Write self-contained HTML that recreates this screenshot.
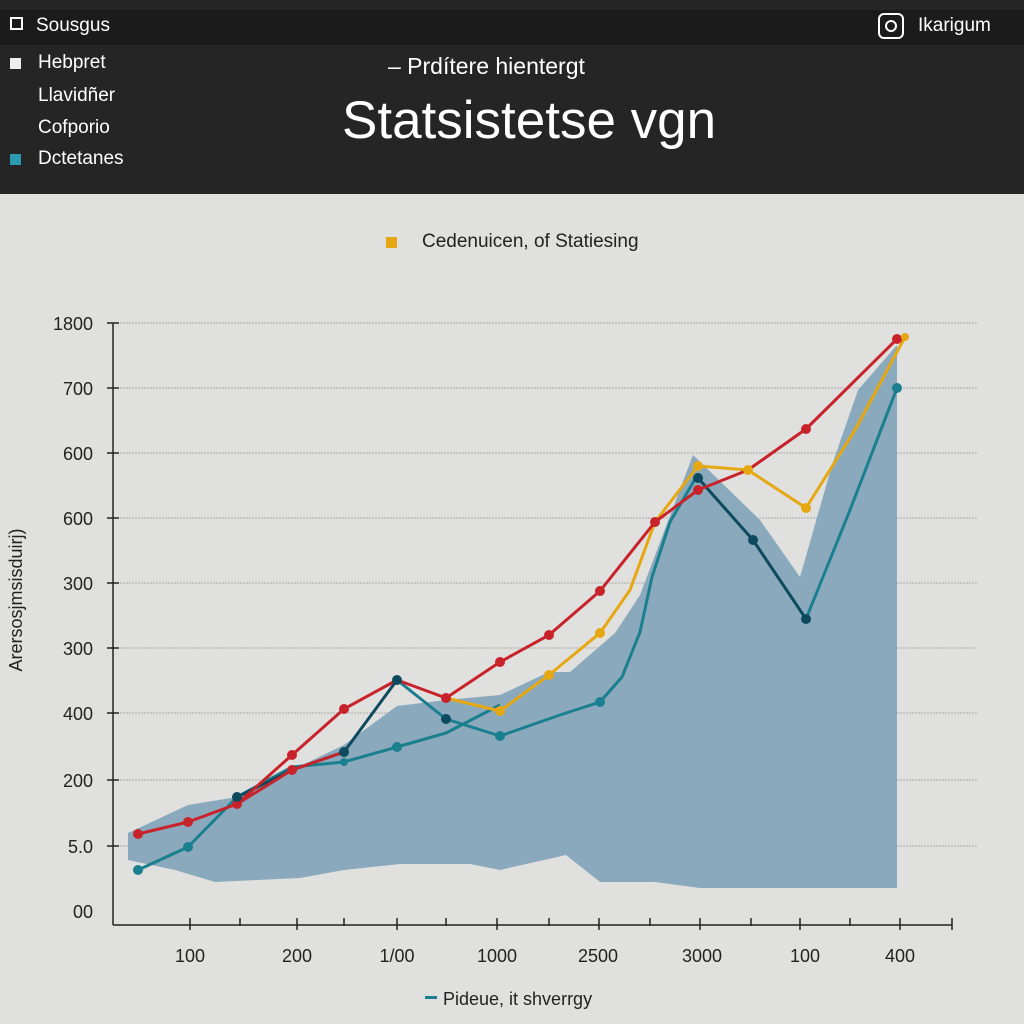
<!DOCTYPE html>
<html><head><meta charset="utf-8"><style>
body{margin:0;width:1024px;height:1024px;background:#e0e0df;font-family:"Liberation Sans",sans-serif;overflow:hidden;position:relative}
.hdr{position:absolute;left:0;top:0;width:1024px;height:194px;background:#252525}
.bar{position:absolute;left:0;top:10px;width:1024px;height:35px;background:#1b1b1b}
.t{position:absolute;color:#fff;white-space:nowrap}
</style></head><body>
<div class="hdr"></div><div class="bar"></div>
<div class="t" style="left:10px;top:17px;width:13px;height:13px;border:2px solid #fff;box-sizing:border-box"></div>
<div class="t" style="left:36px;top:15px;font-size:19px">Sousgus</div>
<div class="t" style="left:878px;top:13px;width:26px;height:26px;border:2px solid #fff;border-radius:6px;box-sizing:border-box"></div>
<div class="t" style="left:885px;top:20px;width:12px;height:12px;border:2px solid #fff;border-radius:50%;box-sizing:border-box"></div>
<div class="t" style="left:918px;top:15px;font-size:19px">Ikarigum</div>
<div class="t" style="left:10px;top:58px;width:11px;height:11px;background:#eee"></div>
<div class="t" style="left:38px;top:52px;font-size:19px">Hebpret</div>
<div class="t" style="left:38px;top:85px;font-size:19px">Llavidñer</div>
<div class="t" style="left:38px;top:117px;font-size:19px">Cofporio</div>
<div class="t" style="left:10px;top:154px;width:11px;height:11px;background:#2a9bb0"></div>
<div class="t" style="left:38px;top:148px;font-size:19px">Dctetanes</div>
<div class="t" style="left:388px;top:53px;font-size:23px">– Prdítere hientergt</div>
<div class="t" style="left:342px;top:90px;font-size:53px">Statsistetse vgn</div>
<div class="t" style="left:386px;top:237px;width:11px;height:11px;background:#e6a812"></div>
<div class="t" style="left:422px;top:231px;font-size:19px;color:#222">Cedenuicen, of Statiesing</div>
<svg width="1024" height="1024" style="position:absolute;left:0;top:0" font-family="Liberation Sans" font-size="18" fill="#222">
<g stroke="#aaa" stroke-width="1" stroke-dasharray="2,1">
<line x1="117" y1="323" x2="978" y2="323"/><line x1="117" y1="388" x2="978" y2="388"/><line x1="117" y1="453" x2="978" y2="453"/><line x1="117" y1="518" x2="978" y2="518"/><line x1="117" y1="583" x2="978" y2="583"/><line x1="117" y1="648" x2="978" y2="648"/><line x1="117" y1="713" x2="978" y2="713"/><line x1="117" y1="780" x2="978" y2="780"/><line x1="117" y1="846" x2="978" y2="846"/>
</g>
<polygon fill="#8aa9bc" points="128,833 188,805 237,797 292,770 344,745 397,706 446,700 500,695 549,672 570,672 615,633 640,595 693,455 760,520 800,577 832,465 858,390 897,345 897,888 700,888 655,882 600,882 566,855 500,870 470,864 400,864 344,870 300,878 215,882 175,870 128,860"/>
<g fill="none" stroke-width="3" stroke-linejoin="round">
<polyline stroke="#1a7f8e" points="138,870 188,847 237,797 292,767 344,762 397,747 446,733 500,705"/>
<polyline stroke="#1a7f8e" points="397,680 446,719 500,736 560,715 600,702 622,677 640,632 652,577 670,522 698,474"/>
<polyline stroke="#1a7f8e" points="806,619 850,510 897,388"/>
<polyline stroke="#0d4a5e" points="237,797 292,770 344,752 397,680"/>
<polyline stroke="#0d4a5e" points="698,478 753,540 806,619"/>
<polyline stroke="#e6a812" points="446,698 500,711 549,675 600,633 630,590 655,522 698,466 748,470 806,508 855,430 905,337"/>
<polyline stroke="#c8232a" points="138,834 188,822 237,804 292,755 344,709 397,680 446,698 500,662 549,635 600,591 655,522 698,490 748,470 806,429 897,339"/>
<polyline stroke="#c8232a" points="237,804 292,770 344,752"/>
</g>
<g fill="#c8232a"><circle cx="138" cy="834" r="5"/><circle cx="188" cy="822" r="5"/><circle cx="237" cy="804" r="5"/><circle cx="292" cy="755" r="5"/><circle cx="292" cy="770" r="5"/><circle cx="344" cy="709" r="5"/><circle cx="446" cy="698" r="5"/><circle cx="500" cy="662" r="5"/><circle cx="549" cy="635" r="5"/><circle cx="600" cy="591" r="5"/><circle cx="655" cy="522" r="5"/><circle cx="698" cy="490" r="5"/><circle cx="806" cy="429" r="5"/><circle cx="897" cy="339" r="5"/></g>
<g fill="#e6a812"><circle cx="500" cy="711" r="5"/><circle cx="549" cy="675" r="5"/><circle cx="600" cy="633" r="5"/><circle cx="698" cy="466" r="5"/><circle cx="748" cy="470" r="5"/><circle cx="806" cy="508" r="5"/><circle cx="905" cy="337" r="4"/></g>
<g fill="#1a7f8e"><circle cx="138" cy="870" r="5"/><circle cx="188" cy="847" r="5"/><circle cx="344" cy="762" r="4"/><circle cx="397" cy="747" r="5"/><circle cx="500" cy="736" r="5"/><circle cx="600" cy="702" r="5"/><circle cx="897" cy="388" r="5"/></g>
<g fill="#0d4a5e"><circle cx="237" cy="797" r="5"/><circle cx="344" cy="752" r="5"/><circle cx="397" cy="680" r="5"/><circle cx="446" cy="719" r="5"/><circle cx="698" cy="478" r="5"/><circle cx="753" cy="540" r="5"/><circle cx="806" cy="619" r="5"/></g>
<g stroke="#222" stroke-width="1.5"><line x1="113" y1="323" x2="113" y2="925"/><line x1="113" y1="925" x2="952" y2="925"/>
<line x1="107" y1="323" x2="119" y2="323"/><line x1="107" y1="388" x2="119" y2="388"/><line x1="107" y1="453" x2="119" y2="453"/><line x1="107" y1="518" x2="119" y2="518"/><line x1="107" y1="583" x2="119" y2="583"/><line x1="107" y1="648" x2="119" y2="648"/><line x1="107" y1="713" x2="119" y2="713"/><line x1="107" y1="780" x2="119" y2="780"/><line x1="107" y1="846" x2="119" y2="846"/>
<line x1="190" y1="918" x2="190" y2="930"/><line x1="240" y1="918" x2="240" y2="926"/><line x1="297" y1="918" x2="297" y2="930"/><line x1="344" y1="918" x2="344" y2="926"/><line x1="397" y1="918" x2="397" y2="930"/><line x1="446" y1="918" x2="446" y2="926"/><line x1="497" y1="918" x2="497" y2="930"/><line x1="549" y1="918" x2="549" y2="926"/><line x1="599" y1="918" x2="599" y2="930"/><line x1="650" y1="918" x2="650" y2="926"/><line x1="700" y1="918" x2="700" y2="930"/><line x1="751" y1="918" x2="751" y2="926"/><line x1="800" y1="918" x2="800" y2="930"/><line x1="850" y1="918" x2="850" y2="926"/><line x1="900" y1="918" x2="900" y2="930"/><line x1="952" y1="918" x2="952" y2="930"/></g>
<g text-anchor="end"><text x="93" y="330">1800</text><text x="93" y="395">700</text><text x="93" y="460">600</text><text x="93" y="525">600</text><text x="93" y="590">300</text><text x="93" y="655">300</text><text x="93" y="720">400</text><text x="93" y="787">200</text><text x="93" y="853">5.0</text><text x="93" y="918">00</text></g>
<g text-anchor="middle"><text x="190" y="962">100</text><text x="297" y="962">200</text><text x="397" y="962">1/00</text><text x="497" y="962">1000</text><text x="598" y="962">2500</text><text x="702" y="962">3000</text><text x="805" y="962">100</text><text x="900" y="962">400</text></g>
<text x="22" y="600" text-anchor="middle" transform="rotate(-90 22 600)">Arersosjmsisduirj)</text>
<rect x="425" y="996" width="12" height="3" fill="#1a7f8e"/>
<text x="443" y="1005">Pideue, it shverrgy</text>
</svg>
</body></html>
